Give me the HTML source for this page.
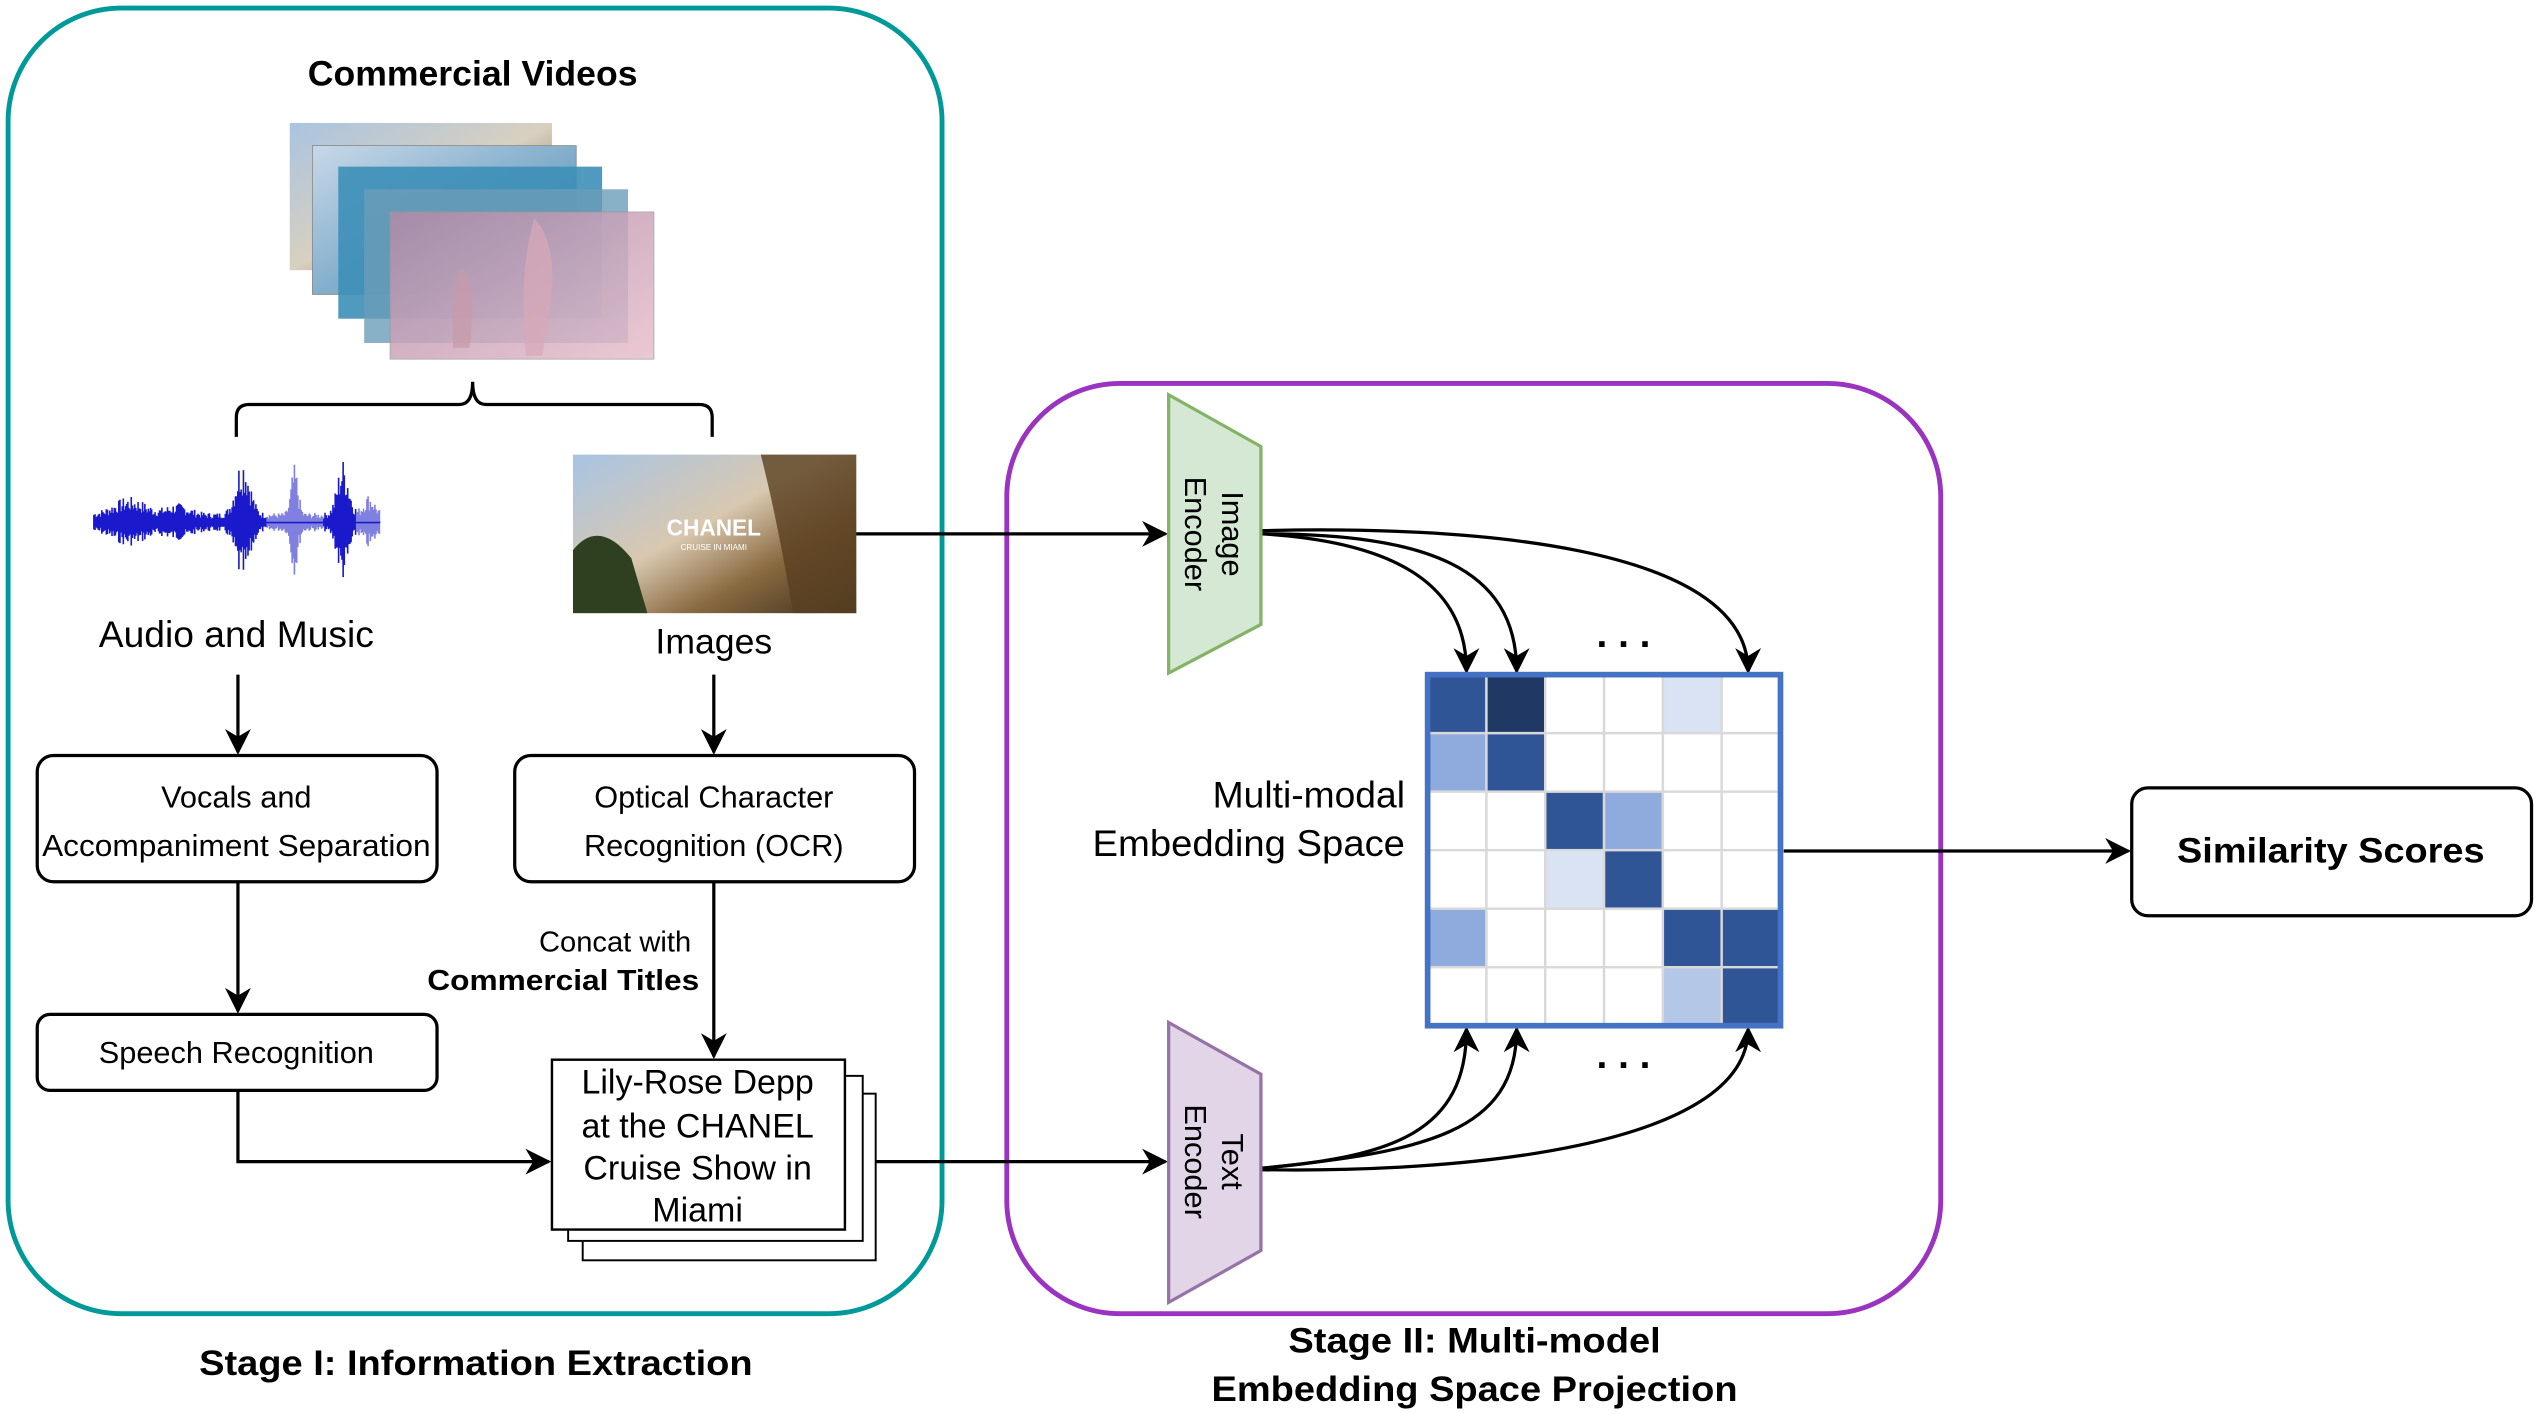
<!DOCTYPE html>
<html><head><meta charset="utf-8"><style>html,body{margin:0;padding:0;background:#fff}svg{display:block}text{font-family:"Liberation Sans",sans-serif}</style></head>
<body>
<svg width="2538" height="1414" viewBox="0 0 1568 874" preserveAspectRatio="none" xmlns="http://www.w3.org/2000/svg">
<defs>
<marker id="a2" viewBox="0 0 10 10" refX="9" refY="5" markerWidth="16" markerHeight="16" orient="auto" markerUnits="userSpaceOnUse">
<path d="M0,0 L10,5 L0,10 L3,5 z" fill="#000"/></marker>
<linearGradient id="f1" x1="0" y1="0" x2="1" y2="1"><stop offset="0" stop-color="#a9c4e0"/><stop offset="0.5" stop-color="#d8d0c0"/><stop offset="1" stop-color="#6b4a30"/></linearGradient>
<linearGradient id="f2" x1="0" y1="0" x2="1" y2="1"><stop offset="0" stop-color="#c8d8e8"/><stop offset="1" stop-color="#3f86b0"/></linearGradient>
<linearGradient id="f5" x1="0" y1="0" x2="1" y2="1"><stop offset="0" stop-color="#b08aa8"/><stop offset="1" stop-color="#e8c0cc"/></linearGradient>
<linearGradient id="ch" x1="0" y1="0" x2="1" y2="1"><stop offset="0" stop-color="#a8c4e4"/><stop offset="0.45" stop-color="#d8c8b0"/><stop offset="0.7" stop-color="#8a6a40"/><stop offset="1" stop-color="#3a3020"/></linearGradient>
</defs>

<rect x="5" y="5" width="577" height="807" rx="70" fill="none" stroke="#009999" stroke-width="3"/>
<rect x="622" y="237" width="577" height="575" rx="70" fill="none" stroke="#9933c0" stroke-width="3"/>

<text x="292" y="53" font-size="22" font-weight="bold" text-anchor="middle">Commercial Videos</text>

<rect x="179" y="76" width="162" height="91" fill="url(#f1)"/>
<rect x="193" y="90" width="163" height="92" fill="url(#f2)" stroke="#888" stroke-width="0.5"/>
<rect x="209" y="103" width="163" height="94" fill="#3d8fb8" opacity="0.9"/>
<rect x="225" y="117" width="163" height="95" fill="#6a9cb8" opacity="0.8"/>
<rect x="241" y="131" width="163" height="91" fill="url(#f5)" opacity="0.85" stroke="#999" stroke-width="0.5"/>
<path d="M330,135 Q345,150 340,190 L335,220 L325,220 Q320,170 330,135z" fill="#d8a8b8" opacity="0.7"/>
<path d="M285,165 Q295,175 290,215 L280,215 Q278,180 285,165z" fill="#c89aa8" opacity="0.7"/>

<path d="M146,270 V258 Q146,250 154,250 H284 Q292,250 292,236 Q292,250 300,250 H432 Q440,250 440,258 V270" fill="none" stroke="#000" stroke-width="2"/>

<g id="wave" stroke="#1a1acc" stroke-width="1"></g>
<line x1="58" y1="323" x2="235" y2="323" stroke="#1a1acc" stroke-width="1"/>
<text x="146" y="400" font-size="23" text-anchor="middle">Audio and Music</text>

<rect x="354" y="281" width="175" height="98" fill="url(#ch)"/>
<path d="M354,379 L354,340 Q370,320 390,345 L400,379 z" fill="#2f4020"/>
<path d="M470,281 L529,281 L529,379 L490,379 Q480,320 470,281z" fill="#5a4020" opacity="0.8"/>
<text x="441" y="331" font-size="14" font-weight="bold" fill="#fff" text-anchor="middle">CHANEL</text>
<text x="441" y="340" font-size="5" fill="#fff" text-anchor="middle">CRUISE IN MIAMI</text>
<text x="441" y="404" font-size="22" text-anchor="middle">Images</text>

<g stroke="#000" stroke-width="2" fill="none">
<line x1="147" y1="417" x2="147" y2="465" marker-end="url(#a2)"/>
<line x1="441" y1="417" x2="441" y2="465" marker-end="url(#a2)"/>
<line x1="147" y1="545" x2="147" y2="625" marker-end="url(#a2)"/>
<line x1="441" y1="545" x2="441" y2="653" marker-end="url(#a2)"/>
<polyline points="147,674 147,718 339,718" marker-end="url(#a2)"/>
<line x1="529" y1="330" x2="720" y2="330" marker-end="url(#a2)"/>
<line x1="541" y1="718" x2="720" y2="718" marker-end="url(#a2)"/>
<line x1="1102" y1="526" x2="1315" y2="526" marker-end="url(#a2)"/>
</g>
<rect x="23" y="467" width="247" height="78" rx="10" fill="#fff" stroke="#000" stroke-width="2"/>
<text x="146" y="499" font-size="19" text-anchor="middle">Vocals and</text>
<text x="146" y="529" font-size="19" text-anchor="middle" textLength="240" lengthAdjust="spacingAndGlyphs">Accompaniment Separation</text>
<rect x="318" y="467" width="247" height="78" rx="10" fill="#fff" stroke="#000" stroke-width="2"/>
<text x="441" y="499" font-size="19" text-anchor="middle">Optical Character</text>
<text x="441" y="529" font-size="19" text-anchor="middle">Recognition (OCR)</text>
<rect x="23" y="627" width="247" height="47" rx="8" fill="#fff" stroke="#000" stroke-width="2"/>
<text x="146" y="657" font-size="19" text-anchor="middle">Speech Recognition</text>
<text x="427" y="588" font-size="18" text-anchor="end">Concat with</text>
<text x="432" y="612" font-size="18" font-weight="bold" text-anchor="end" textLength="168" lengthAdjust="spacingAndGlyphs">Commercial Titles</text>

<rect x="360" y="676" width="181" height="103" fill="#fff" stroke="#000" stroke-width="1.2"/>
<rect x="351" y="665" width="182" height="102" fill="#fff" stroke="#000" stroke-width="1.2"/>
<rect x="341" y="655" width="181" height="105" fill="#fff" stroke="#000" stroke-width="1.5"/>
<g font-size="21" text-anchor="middle">
<text x="431" y="676">Lily-Rose Depp</text>
<text x="431" y="703">at the CHANEL</text>
<text x="431" y="729">Cruise Show in</text>
<text x="431" y="755">Miami</text>
</g>

<text x="294" y="850" font-size="22" font-weight="bold" text-anchor="middle" textLength="342" lengthAdjust="spacingAndGlyphs">Stage I: Information Extraction</text>
<text x="911" y="836" font-size="22" font-weight="bold" text-anchor="middle" textLength="230" lengthAdjust="spacingAndGlyphs">Stage II: Multi-model</text>
<text x="911" y="866" font-size="22" font-weight="bold" text-anchor="middle" textLength="325" lengthAdjust="spacingAndGlyphs">Embedding Space Projection</text>

<polygon points="722,244 779,276 779,386 722,416" fill="#d5e8d4" stroke="#82b366" stroke-width="2"/>
<text transform="translate(755,330) rotate(90)" font-size="19" text-anchor="middle">Image</text>
<text transform="translate(732,330) rotate(90)" font-size="19" text-anchor="middle">Encoder</text>
<polygon points="722,632 779,664 779,773 722,805" fill="#e1d5e7" stroke="#9673a6" stroke-width="2"/>
<text transform="translate(755,718) rotate(90)" font-size="19" text-anchor="middle">Text</text>
<text transform="translate(732,718) rotate(90)" font-size="19" text-anchor="middle">Encoder</text>

<g stroke="#000" stroke-width="2" fill="none">
<path d="M780,330 C860,335 906,360 906,415" marker-end="url(#a2)"/>
<path d="M780,330 C880,330 937,350 937,415" marker-end="url(#a2)"/>
<path d="M780,328 C900,325 1080,335 1080,415" marker-end="url(#a2)"/>
<path d="M780,722 C860,715 906,700 906,636" marker-end="url(#a2)"/>
<path d="M780,722 C880,712 937,700 937,636" marker-end="url(#a2)"/>
<path d="M780,723 C900,725 1080,710 1080,636" marker-end="url(#a2)"/>
</g>
<text x="1003" y="400" font-size="24" font-weight="bold" text-anchor="middle">. . .</text>
<text x="1003" y="660" font-size="24" font-weight="bold" text-anchor="middle">. . .</text>

<text x="868" y="499" font-size="23" text-anchor="end">Multi-modal</text>
<text x="868" y="529" font-size="23" text-anchor="end" textLength="193" lengthAdjust="spacingAndGlyphs">Embedding Space</text>

<g id="mat"></g>
<rect x="882" y="417" width="218" height="217" fill="none" stroke="#4472c4" stroke-width="3.5"/>

<rect x="1317" y="487" width="247" height="79" rx="10" fill="#fff" stroke="#000" stroke-width="2"/>
<text x="1440" y="533" font-size="22" font-weight="bold" text-anchor="middle" textLength="190" lengthAdjust="spacingAndGlyphs">Similarity Scores</text>
</svg>
<script>
var ns="http://www.w3.org/2000/svg";
var D="#2f5597",K="#203864",L="#8faadc",P="#dae3f3",Q="#b4c7e7",W="#fff";
var M=[[D,K,W,W,P,W],[L,D,W,W,W,W],[W,W,D,L,W,W],[W,W,P,D,W,W],[L,W,W,W,D,D],[W,W,W,W,Q,D]];
var g=document.getElementById("mat"),cw=218/6,ch=217/6;
for(var r=0;r<6;r++)for(var c=0;c<6;c++){var e=document.createElementNS(ns,"rect");
e.setAttribute("x",882+c*cw);e.setAttribute("y",417+r*ch);e.setAttribute("width",cw);e.setAttribute("height",ch);
e.setAttribute("fill",M[r][c]);e.setAttribute("stroke","#d9d9d9");e.setAttribute("stroke-width","1.5");g.appendChild(e);}
var w=document.getElementById("wave");
function amp(x){var a=6;
 a+=10*Math.exp(-Math.pow((x-80)/14,2));a+=6*Math.exp(-Math.pow((x-110)/10,2));
 a+=36*Math.exp(-Math.pow((x-150)/6,2));a+=30*Math.exp(-Math.pow((x-182)/3,2));a+=34*Math.exp(-Math.pow((x-212)/5,2));
 a+=12*Math.exp(-Math.pow((x-228)/5,2));return a;}
var s=7;function rnd(){s=(s*9301+49297)%233280;return s/233280;}
for(var x=58;x<=235;x+=0.7){var a=amp(x)*(0.4+0.6*rnd());var l=document.createElementNS(ns,"line");
l.setAttribute("x1",x);l.setAttribute("x2",x);l.setAttribute("y1",323-a);l.setAttribute("y2",323+a*0.9);
if((x>165&&x<200)||x>220)l.setAttribute("stroke","#8080e0");w.appendChild(l);}
</script>
</body></html>
